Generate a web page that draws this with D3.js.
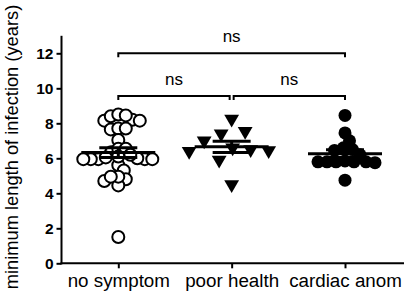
<!DOCTYPE html>
<html><head><meta charset="utf-8">
<script src="https://cdn.jsdelivr.net/npm/d3@7"></script>
<style>body{margin:0;background:#fff}svg{display:block}</style>
</head><body>
<svg id="c" width="404" height="294"></svg>
<script>
const categories = ["no symptom", "poor health", "cardiac anom"];
const noSymptom = [8.2, 8.15, 8.4, 8.5, 8.45, 8.15, 7.65, 7.7, 7.7, 7.05, 6.35, 5.95, 5.95, 5.95, 5.95, 5.95, 6.0, 6.55, 6.55, 6.05, 5.6, 5.3, 4.8, 4.7, 4.45, 4.95, 4.95, 1.5, 6.2, 6.1];
const poorHealth = [8.25, 7.55, 6.5, 6.4, 6.45, 5.9, 4.5, 7.0, 6.6, 7.4];
const cardiacAnom = [8.45, 7.45, 7.0, 6.45, 6.5, 6.2, 5.85, 5.8, 5.8, 5.8, 5.8, 5.8, 5.75, 4.75, 6.6];
const yTicks = [0, 2, 4, 6, 8, 10, 12];
const yLabel = "minimum length of infection (years)";
const comparisons = [
  {a: 0, b: 2, label: "ns", level: 2},
  {a: 0, b: 1, label: "ns", level: 1},
  {a: 1, b: 2, label: "ns", level: 1}
];

const FONT = "Liberation Sans, Arial, sans-serif";
const svg = d3.select("#c");
const y = d3.scaleLinear().domain([0, 13]).range([263.3, 35.8]);
const x = d3.scalePoint().domain(categories).range([118.3, 345]);
const axisX = 61.5;

// axes
const ya = svg.append("g").attr("transform", `translate(${axisX},0)`)
  .call(d3.axisLeft(y).tickValues(yTicks).tickSize(5).tickPadding(3).tickSizeOuter(0));
ya.select(".domain").attr("stroke-width", 2).attr("d", `M0,${y(13)}V${y(0)+1}`);
ya.selectAll(".tick line").attr("stroke-width", 2);
ya.selectAll(".tick text").attr("font-family", FONT)
  .attr("font-size", 15.5).attr("font-weight", "bold").attr("fill", "#000");

const xa = svg.append("g").attr("transform", `translate(0,${y(0)})`)
  .call(d3.axisBottom(x).tickSize(5).tickPadding(5).tickSizeOuter(0));
xa.select(".domain").attr("stroke-width", 2).attr("d", `M${axisX-1},0H404`);
xa.selectAll(".tick line").attr("stroke-width", 2);
xa.selectAll(".tick text").attr("font-family", FONT)
  .attr("font-size", 18.8).attr("fill", "#000");

svg.append("text").attr("transform", `translate(17.5,147) rotate(-90)`)
  .attr("text-anchor", "middle").attr("font-family", FONT)
  .attr("font-size", 18.3).attr("fill", "#000").text(yLabel);

// beeswarm
function swarm(vals, cx, minDist) {
  const placed = [];
  const order = vals.map((v, i) => i).sort((a, b) => vals[b] - vals[a]);
  const out = new Array(vals.length);
  order.forEach(i => {
    const py = y(vals[i]);
    let best = null;
    for (let k = 0; k < 200; k++) {
      const cands = k === 0 ? [0] : [k * 0.5, -k * 0.5];
      for (const off of cands) {
        const px = cx + off;
        if (placed.every(p => Math.hypot(p[0] - px, p[1] - py) >= minDist)) { best = px; break; }
      }
      if (best !== null) break;
    }
    placed.push([best, py]);
    out[i] = [best, py];
  });
  return out;
}

const groups = [noSymptom, poorHealth, cardiacAnom];
const g = svg.append("g");
swarm(noSymptom, x(categories[0]), 7.5).forEach(p => {
  g.append("circle").attr("cx", p[0]).attr("cy", p[1]).attr("r", 6)
    .attr("fill", "#fff").attr("stroke", "#000").attr("stroke-width", 2);
});
const tri = d3.symbol().type(d3.symbolTriangle).size(95);
swarm(poorHealth, x(categories[1]), 18).forEach(p => {
  g.append("path").attr("d", tri()).attr("transform", `translate(${p[0]},${p[1]}) rotate(180)`)
    .attr("fill", "#000");
});
swarm(cardiacAnom, x(categories[2]), 9).forEach(p => {
  g.append("circle").attr("cx", p[0]).attr("cy", p[1]).attr("r", 6.5).attr("fill", "#000");
});

// mean and SEM
groups.forEach((vals, i) => {
  const cx = x(categories[i]);
  const m = d3.mean(vals), sem = d3.deviation(vals) / Math.sqrt(vals.length);
  svg.append("line").attr("x1", cx - 37).attr("x2", cx + 37).attr("y1", y(m)).attr("y2", y(m))
    .attr("stroke", "#000").attr("stroke-width", 3);
  [m - sem, m + sem].forEach(v => {
    svg.append("line").attr("x1", cx - 19).attr("x2", cx + 19).attr("y1", y(v)).attr("y2", y(v))
      .attr("stroke", "#000").attr("stroke-width", 3);
  });
  svg.append("line").attr("x1", cx).attr("x2", cx).attr("y1", y(m - sem)).attr("y2", y(m + sem))
    .attr("stroke", "#000").attr("stroke-width", 3);
});

// brackets
comparisons.forEach(c => {
  const by = c.level === 2 ? 53.3 : 96;
  const x1 = x(categories[c.a]) + (c.level === 1 && c.a === 1 ? 2 : 0);
  const x2 = x(categories[c.b]) - (c.level === 1 && c.b === 1 ? 2 : 0);
  svg.append("path").attr("d", `M${x1},${by + 4}V${by}H${x2}V${by + 4}`)
    .attr("fill", "none").attr("stroke", "#000").attr("stroke-width", 2);
  svg.append("text").attr("x", (x1 + x2) / 2).attr("y", by - 11).attr("text-anchor", "middle")
    .attr("font-family", FONT).attr("font-size", 17).attr("fill", "#000").text(c.label);
});
</script>
</body></html>
